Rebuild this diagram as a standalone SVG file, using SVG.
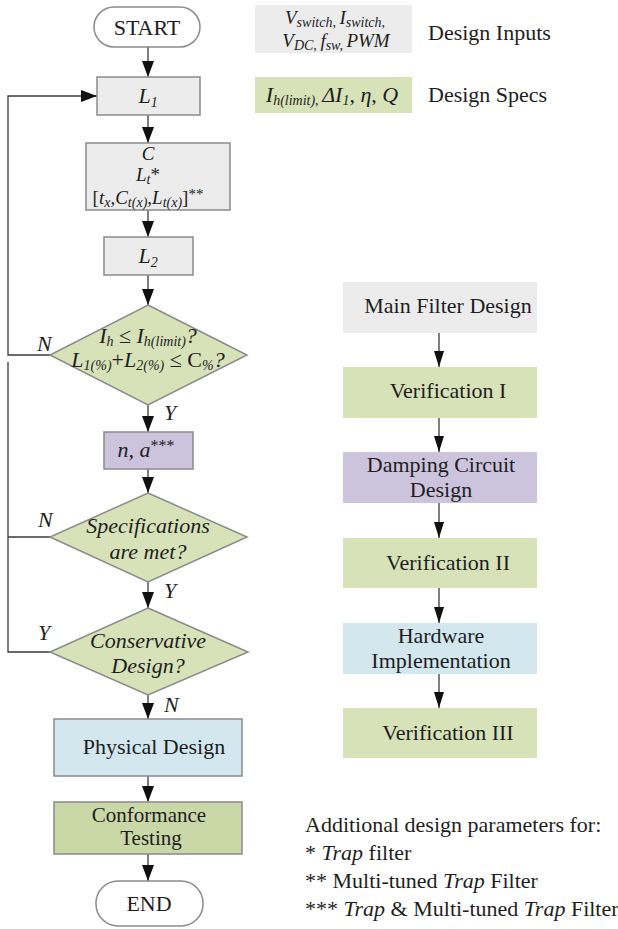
<svg xmlns="http://www.w3.org/2000/svg" width="618" height="929" viewBox="0 0 618 929" font-family="'Times New Roman', 'Liberation Serif', 'DejaVu Serif', serif">
  <style>
    text { font-family: "Times New Roman", "Liberation Serif", "DejaVu Serif", serif; font-size: 22px; fill: #1e1e1e; }
    .c { text-anchor: middle; }
    .i { font-style: italic; }
    .sub { font-size: 14px; font-style: italic; }
    .box { stroke: #8a8a8a; stroke-width: 1.5; }
    .gray { fill: #ececec; }
    .green { fill: #d7e2b9; }
    .dgreen { fill: #cad7a6; }
    .purple { fill: #ccc3dc; }
    .blue { fill: #d3e7ef; }
    .wire { fill: none; stroke: #3a3a3a; stroke-width: 1.3; }
  </style>
  <defs>
    <marker id="ah" markerUnits="userSpaceOnUse" markerWidth="16" markerHeight="12" refX="16" refY="6" orient="auto">
      <path d="M0,0 L16,6 L0,12 z" fill="#111"/>
    </marker>
    <marker id="ahs" markerUnits="userSpaceOnUse" markerWidth="16" markerHeight="10" refX="16" refY="5" orient="auto">
      <path d="M0,0 L16,5 L0,10 z" fill="#111"/>
    </marker>
  </defs>

  <rect width="618" height="929" fill="#ffffff"/>

  <!-- connectors -->
  <g id="connectors">
    <line class="wire" x1="148" y1="47" x2="148" y2="77" marker-end="url(#ah)"/>
    <line class="wire" x1="148" y1="115" x2="148" y2="143" marker-end="url(#ah)"/>
    <line class="wire" x1="148" y1="210" x2="148" y2="237" marker-end="url(#ah)"/>
    <line class="wire" x1="148" y1="275" x2="148" y2="305" marker-end="url(#ah)"/>
    <line class="wire" x1="148" y1="405" x2="148" y2="432" marker-end="url(#ah)"/>
    <line class="wire" x1="148" y1="469" x2="148" y2="493" marker-end="url(#ah)"/>
    <line class="wire" x1="148" y1="582" x2="148" y2="608" marker-end="url(#ah)"/>
    <line class="wire" x1="148" y1="695" x2="148" y2="719" marker-end="url(#ah)"/>
    <line class="wire" x1="148" y1="776" x2="148" y2="802" marker-end="url(#ah)"/>
    <line class="wire" x1="148" y1="854" x2="148" y2="881" marker-end="url(#ah)"/>
    <!-- feedback loops -->
    <polyline class="wire" points="50,355 8,355 8,96 97,96" marker-end="url(#ah)"/>
    <path class="wire" d="M50,537 H8 M8,362 V652 H50"/>
    <!-- process overview column -->
    <line class="wire" x1="439" y1="333" x2="439" y2="367" marker-end="url(#ahs)"/>
    <line class="wire" x1="439" y1="418" x2="439" y2="452" marker-end="url(#ahs)"/>
    <line class="wire" x1="439" y1="503" x2="439" y2="538" marker-end="url(#ahs)"/>
    <line class="wire" x1="439" y1="588" x2="439" y2="623" marker-end="url(#ahs)"/>
    <line class="wire" x1="439" y1="674" x2="439" y2="708" marker-end="url(#ahs)"/>
    <!-- branch labels -->
    <text class="i" x="37" y="351">N</text>
    <text class="i" x="164" y="420">Y</text>
    <text class="i" x="38" y="527">N</text>
    <text class="i" x="164" y="598">Y</text>
    <text class="i" x="38" y="640">Y</text>
    <text class="i" x="164" y="712">N</text>
  </g>

  <!-- main flow -->
  <g id="start">
    <rect class="box" x="94" y="7" width="106" height="40" rx="20" fill="#ffffff"/>
    <text class="c" x="147" y="35">START</text>
  </g>

  <g id="l1">
    <rect class="box gray" x="97" y="77" width="103" height="38"/>
    <text class="c i" x="148" y="103">L<tspan class="sub" font-style="normal" dy="4">1</tspan></text>
  </g>

  <g id="c-lt">
    <rect class="box gray" x="86" y="143" width="144" height="67"/>
    <text class="c i" x="148" y="160" style="font-size:19px">C</text>
    <text class="c i" x="148" y="181" style="font-size:19px">L<tspan class="sub" dy="3">t</tspan><tspan font-style="normal" dy="-3">*</tspan></text>
    <text class="c" x="148" y="204" style="font-size:19px">[<tspan class="i">t</tspan><tspan class="sub" dy="3">x</tspan><tspan dy="-3">,</tspan><tspan class="i">C</tspan><tspan class="sub" dy="3">t(x)</tspan><tspan dy="-3">,</tspan><tspan class="i">L</tspan><tspan class="sub" dy="3">t(x)</tspan><tspan dy="-3">]</tspan><tspan font-size="15" dy="-5">**</tspan></text>
  </g>

  <g id="l2">
    <rect class="box gray" x="104" y="237" width="89" height="38"/>
    <text class="c i" x="148" y="263">L<tspan class="sub" font-style="normal" dy="4">2</tspan></text>
  </g>

  <g id="check-harmonics">
    <polygon class="box green" points="148,305 247,355 148,405 50,355"/>
    <text class="c i" x="148" y="343">I<tspan class="sub" dy="3">h</tspan><tspan dy="-3" font-style="normal"> ≤ </tspan>I<tspan class="sub" dy="3">h(limit)</tspan><tspan dy="-3">?</tspan></text>
    <text class="c i" x="148" y="367">L<tspan class="sub" font-style="normal" dy="3">1(%)</tspan><tspan dy="-3" font-style="normal">+</tspan>L<tspan class="sub" font-style="normal" dy="3">2(%)</tspan><tspan dy="-3" font-style="normal"> ≤ C</tspan><tspan class="sub" font-style="normal" dy="3">%</tspan><tspan dy="-3">?</tspan></text>
  </g>

  <g id="damping-params">
    <rect class="box purple" x="104" y="432" width="89" height="37"/>
    <text class="c i" x="146" y="457">n, a<tspan font-size="16" font-style="normal" dy="-6">***</tspan></text>
  </g>

  <g id="check-specs">
    <polygon class="box green" points="148,493 247,537 148,582 50,537"/>
    <text class="c i" x="148" y="533">Specifications</text>
    <text class="c i" x="148" y="559">are met?</text>
  </g>

  <g id="check-conservative">
    <polygon class="box green" points="148,608 248,652 148,695 50,652"/>
    <text class="c i" x="148" y="648">Conservative</text>
    <text class="c i" x="148" y="673">Design?</text>
  </g>

  <g id="physical-design">
    <rect class="box blue" x="54" y="719" width="188" height="57"/>
    <text class="c" x="154" y="754">Physical Design</text>
  </g>

  <g id="conformance-testing">
    <rect class="box dgreen" x="54" y="802" width="188" height="52"/>
    <text class="c" x="149" y="822" style="font-size:21px">Conformance</text>
    <text class="c" x="151" y="845" style="font-size:21px">Testing</text>
  </g>

  <g id="end">
    <rect class="box" x="96" y="881" width="107" height="45" rx="22" fill="#ffffff"/>
    <text class="c" x="149" y="911">END</text>
  </g>

  <!-- legend -->
  <g id="design-inputs">
    <rect class="gray" x="255" y="5" width="157" height="48"/>
    <text class="c i" x="335" y="24" style="font-size:19px">V<tspan class="sub" dy="3">switch, </tspan><tspan dy="-3">I</tspan><tspan class="sub" dy="3">switch,</tspan></text>
    <text class="c i" x="336" y="47" style="font-size:19px">V<tspan class="sub" dy="3">DC, </tspan><tspan dy="-3">f</tspan><tspan class="sub" dy="3">sw, </tspan><tspan dy="-3">PWM</tspan></text>
    <text x="428" y="40">Design Inputs</text>
  </g>

  <g id="design-specs">
    <rect class="green" x="255" y="77" width="157" height="36"/>
    <text class="c i" x="332" y="102">I<tspan class="sub" dy="3">h(limit), </tspan><tspan dy="-3">ΔI</tspan><tspan class="sub" font-style="normal" dy="3">1</tspan><tspan dy="-3" font-style="normal">, </tspan>η<tspan font-style="normal">, </tspan>Q</text>
    <text x="428" y="102">Design Specs</text>
  </g>

  <!-- process overview -->
  <g id="main-filter-design">
    <rect class="gray" x="343" y="282" width="194" height="51"/>
    <text class="c" x="448" y="313">Main Filter Design</text>
  </g>
  <g id="verification-1">
    <rect class="green" x="343" y="367" width="194" height="51"/>
    <text class="c" x="448" y="398">Verification I</text>
  </g>
  <g id="damping-circuit-design">
    <rect class="purple" x="343" y="452" width="194" height="51"/>
    <text class="c" x="441" y="472">Damping Circuit</text>
    <text class="c" x="441" y="497">Design</text>
  </g>
  <g id="verification-2">
    <rect class="green" x="343" y="538" width="194" height="50"/>
    <text class="c" x="448" y="570">Verification II</text>
  </g>
  <g id="hardware-implementation">
    <rect class="blue" x="343" y="623" width="194" height="51"/>
    <text class="c" x="441" y="643">Hardware</text>
    <text class="c" x="441" y="668">Implementation</text>
  </g>
  <g id="verification-3">
    <rect class="green" x="343" y="708" width="194" height="50"/>
    <text class="c" x="448" y="740">Verification III</text>
  </g>

  <!-- footnotes -->
  <g id="notes">
    <text x="305" y="832">Additional design parameters for:</text>
    <text x="305" y="860">* <tspan class="i">Trap</tspan> filter</text>
    <text x="305" y="888">** Multi-tuned <tspan class="i">Trap</tspan> Filter</text>
    <text x="305" y="916">*** <tspan class="i">Trap</tspan> &amp; Multi-tuned <tspan class="i">Trap</tspan> Filter</text>
  </g>
</svg>
